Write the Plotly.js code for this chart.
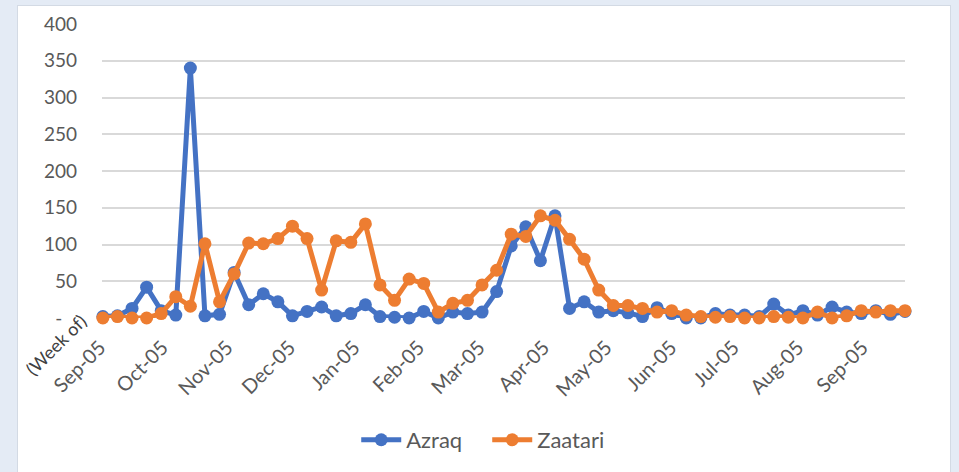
<!DOCTYPE html>
<html>
<head>
<meta charset="utf-8">
<script src="https://cdn.plot.ly/plotly-3.0.1.min.js"></script>
<style>
  html, body { margin: 0; padding: 0; background: #e4ebf5; width: 959px; height: 472px; overflow: hidden; }
  #panel { position: absolute; left: 17px; top: 5px; width: 932px; height: 470px; background: #ffffff; border: 1px solid #d3dae4; }
  #chart { position: absolute; left: 0; top: 0; width: 959px; height: 472px; }
</style>
</head>
<body>
<div id="panel"></div>
<div id="chart"></div>
<script>
// Week-of start dates (weekly, first week of Aug 31 2015)
const firstWeek = '2015-08-31';
const weekCount = 56;

const azraq = [2, 3, 13, 42, 10, 4, 340, 3, 5, 62,
               18, 33, 22, 3, 9, 15, 3, 6, 18, 2,
               1, 0, 9, 0, 8, 6, 8, 36, 98, 124,
               78, 139, 13, 22, 8, 10, 7, 2, 14, 6,
               0, 0, 6, 4, 4, 2, 19, 4, 10, 4,
               15, 8, 6, 10, 5, 9];

const zaatari = [0, 2, 0, 0, 6, 29, 16, 101, 22, 60,
                 102, 101, 108, 125, 108, 38, 105, 103, 128, 45,
                 24, 53, 47, 8, 20, 24, 45, 65, 114, 111,
                 139, 133, 107, 80, 38, 17, 17, 13, 8, 10,
                 4, 2, 1, 2, 0, 0, 2, 1, 0, 8,
                 0, 3, 10, 8, 10, 10];

const monthTicks = ['2015-09-01', '2015-10-01', '2015-11-01', '2015-12-01', '2016-01-01', '2016-02-01',
                    '2016-03-01', '2016-04-01', '2016-05-01', '2016-06-01', '2016-07-01', '2016-08-01', '2016-09-01'];
const monthLabels = ['Sep-05', 'Oct-05', 'Nov-05', 'Dec-05', 'Jan-05', 'Feb-05',
                     'Mar-05', 'Apr-05', 'May-05', 'Jun-05', 'Jul-05', 'Aug-05', 'Sep-05'];

const yTicks = [0, 50, 100, 150, 200, 250, 300, 350, 400];
const yLabels = ['-\u00a0\u00a0\u00a0', '50', '100', '150', '200', '250', '300', '350', '400'];

const seriesNames = ['Azraq', 'Zaatari'];

// build week dates
const weeks = [];
const start = new Date(firstWeek + 'T00:00:00Z');
for (let i = 0; i < weekCount; i++) {
  const d = new Date(start.getTime() + i * 7 * 86400000);
  weeks.push(d.toISOString().slice(0, 10));
}

const FONT = 'Lato, "Open Sans", sans-serif';

const traces = [
  { x: weeks, y: azraq, name: seriesNames[0], type: 'scatter', mode: 'lines+markers', cliponaxis: false,
    line: { color: '#4472C4', width: 5 }, marker: { color: '#4472C4', size: 13 } },
  { x: weeks, y: zaatari, name: seriesNames[1], type: 'scatter', mode: 'lines+markers', cliponaxis: false,
    line: { color: '#ED7D31', width: 5 }, marker: { color: '#ED7D31', size: 13 } }
];

const layout = {
  width: 959, height: 472,
  margin: { l: 101.7, r: 54, t: 23.7, b: 152.5, pad: 0 },
  paper_bgcolor: 'rgba(0,0,0,0)',
  plot_bgcolor: 'rgba(0,0,0,0)',
  font: { family: FONT, size: 19, color: '#595959' },
  showlegend: true,
  legend: { orientation: 'h', x: 0.3166, xanchor: 'left', y: -0.41, yanchor: 'middle',
            entrywidth: 76, entrywidthmode: 'pixels',
            font: { family: FONT, size: 22, color: '#595959' }, itemwidth: 40, tracegroupgap: 0 },
  xaxis: {
    type: 'date',
    range: ['2015-08-30 14:00', '2016-09-19'],
    tickmode: 'array', tickvals: monthTicks, ticktext: monthLabels,
    tickangle: -45, showgrid: false, zeroline: false, showline: false, ticks: '',
    ticklabelstandoff: 13, ticklabelshift: -5,
    tickfont: { family: FONT, size: 20, color: '#595959' }
  },
  yaxis: {
    range: [0, 400], tickmode: 'array', tickvals: yTicks, ticktext: yLabels,
    showgrid: true, gridcolor: '#d9d9d9', gridwidth: 2, zeroline: false, showline: false,
    ticks: '', ticklabelstandoff: 24,
    tickfont: { family: FONT, size: 19, color: '#595959' }
  },
  annotations: [
    { text: '(Week of)', xref: 'paper', yref: 'paper', x: -0.011, y: 0.035,
      xanchor: 'right', yanchor: 'top', textangle: -45, showarrow: false,
      font: { family: FONT, size: 18, color: '#404040' } }
  ]
};

Plotly.newPlot('chart', traces, layout, { displayModeBar: false, staticPlot: true });
</script>
</body>
</html>
